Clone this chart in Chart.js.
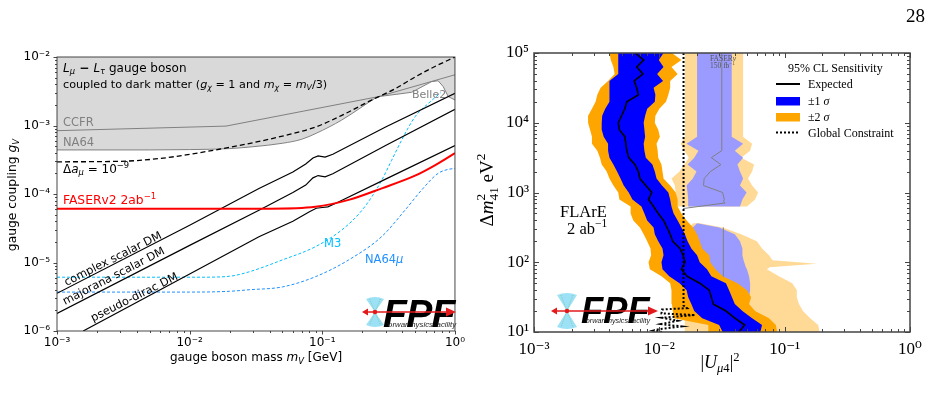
<!DOCTYPE html>
<html><head><meta charset="utf-8">
<script src="https://cdn.jsdelivr.net/npm/chart.js@4/dist/chart.umd.min.js"></script>
<style>
html,body{margin:0;padding:0;background:#fff;width:944px;height:403px;overflow:hidden;position:relative}
#c1{position:absolute;left:0;top:0}
#c2{position:absolute;left:470px;top:0}
#pg{position:absolute;left:906px;top:6px;font:19px "Liberation Serif","DejaVu Serif",serif;line-height:19px;color:#000}
</style></head><body>
<canvas id="c1" width="470" height="403"></canvas>
<canvas id="c2" width="474" height="403"></canvas>
<div id="pg">28</div>
<script>
// ================= LEFT PANEL DATA =================
const massTicks = [0.001, 0.01, 0.1, 1];
const couplingTicks = [1e-6, 1e-5, 1e-4, 1e-3, 1e-2];
const ccfrBound = [[1e-3,8.4e-4],[0.0188,9.8e-4],[0.265,2.64e-3],[1,5.5e-3]];
const na64Bound = [[1e-3,4.4e-4],[0.005,4.4e-4],[0.01,4.45e-4],[0.02,4.6e-4],[0.03,4.9e-4],[0.05,5.5e-4],[0.07,6.3e-4],[0.09,7.7e-4],[0.14,1.2e-3],[0.2,1.88e-3],[0.25,2.5e-3],[0.265,2.64e-3]];
const belle2Bound = [[0.265,2.64e-3],[0.471,3.05e-3],[0.665,4.36e-3],[0.746,4.5e-3],[0.815,3.7e-3],[0.89,2.64e-3],[1,2.36e-3]];
const deltaAmu = [[1e-3,2.95e-4],[0.003,3.0e-4],[0.006,3.3e-4],[0.01,3.8e-4],[0.0167,4.5e-4],[0.03,5.6e-4],[0.05,7.0e-4],[0.089,9.5e-4],[0.15,1.5e-3],[0.235,2.35e-3],[0.35,3.4e-3],[0.5,5.1e-3],[0.7,7.2e-3],[1,1.0e-2]];
const faserV2Reach = [[1e-3,6.1e-5],[0.01,6.1e-5],[0.04,6.1e-5],[0.0887,6.5e-5],[0.158,8.2e-5],[0.281,1.21e-4],[0.5,1.85e-4],[0.7,2.6e-4],[1,3.95e-4]];
const m3Reach = [[1e-3,6.1e-6],[0.012,6.1e-6],[0.02,6.3e-6],[0.028,7.3e-6],[0.05,1.09e-5],[0.0887,1.7e-5],[0.14,2.98e-5],[0.19,5.2e-5],[0.236,9.1e-5],[0.281,1.6e-4],[0.333,3.1e-4],[0.396,6.1e-4],[0.5,1.34e-3],[0.63,2.1e-3],[0.78,3.0e-3]];
const na64muReach = [[1e-3,3.7e-6],[0.01,3.7e-6],[0.02,3.8e-6],[0.028,4.0e-6],[0.05,4.4e-6],[0.0887,6.2e-6],[0.158,1.09e-5],[0.281,2.4e-5],[0.42,5.8e-5],[0.56,1.14e-4],[0.746,2.0e-4],[0.9,2.3e-4],[1,2.35e-4]];
const complexScalarDM = [[1e-3,3.55e-6],[0.01,3.5e-5],[0.0333,1.2e-4],[0.06,2.1e-4],[0.075,2.75e-4],[0.085,3.35e-4],[0.093,3.6e-4],[0.105,3.45e-4],[0.12,3.8e-4],[0.3,9.5e-4],[1,2.95e-3]];
const majoranaScalarDM = [[1e-3,1.8e-6],[0.01,1.78e-5],[0.0333,5.8e-5],[0.06,1.05e-4],[0.075,1.35e-4],[0.085,1.72e-4],[0.093,1.86e-4],[0.105,1.78e-4],[0.12,1.97e-4],[0.3,5.1e-4],[1,1.72e-3]];
const pseudoDiracDM = [[1.575e-3,1e-6],[0.01,6.8e-6],[0.0333,2.38e-5],[0.06,4.0e-5],[0.08,5.5e-5],[0.09,6.2e-5],[0.1,6.35e-5],[0.11,6.5e-5],[0.13,7.5e-5],[0.3,1.65e-4],[1,5.1e-4]];

// ================= RIGHT PANEL DATA =================
const mixingTicks = [0.001, 0.01, 0.1, 1];
const dm2Ticks = [10, 100, 1000, 10000, 100000];
const dm2Grid = [10,12.6,15.8,20,25.1,31.6,39.8,50.1,63.1,79.4,100,126,158,200,251,316,398,501,631,794,1000,1259,1585,1995,2512,3162,3981,5012,6310,7943,10000,12589,15849,19953,25119,31623,39811,50119,63096,79433,100000];
const flare2sLow = [0.0246,0.0246,0.0130,0.0128,0.0126,0.0126,0.0124,0.0122,0.0104,0.0084,0.0082,0.0086,0.0085,0.0080,0.0075,0.0070,0.0062,0.0059,0.0059,0.0048,0.0047,0.0043,0.0040,0.0038,0.00347,0.00336,0.0032,0.0029,0.0029,0.0028,0.0027,0.0027,0.0029,0.0031,0.0032,0.0034,0.0039,0.0044,0.0043,0.0041,0.0040];
const flare1sLow = [0.032,0.030,0.022,0.019,0.018,0.017,0.0165,0.0145,0.0120,0.0106,0.0104,0.0108,0.0106,0.0098,0.0092,0.0090,0.0080,0.0076,0.0072,0.0061,0.0057,0.0052,0.0049,0.0046,0.0043,0.0040,0.0039,0.0039,0.0036,0.00347,0.00347,0.0035,0.0037,0.0040,0.0040,0.0040,0.0040,0.0047,0.0047,0.0047,0.0047];
const flareExpected = [0.043,0.048,0.040,0.034,0.027,0.026,0.025,0.021,0.0166,0.0150,0.0160,0.0155,0.0146,0.0128,0.0122,0.0115,0.0108,0.0098,0.0090,0.0082,0.0087,0.0078,0.0070,0.0068,0.0064,0.0057,0.0055,0.0054,0.0053,0.0048,0.0047,0.0050,0.0053,0.0055,0.0068,0.0066,0.0063,0.0074,0.0066,0.0075,0.0064];
const flare1sHigh = [0.064,0.066,0.055,0.046,0.040,0.038,0.036,0.034,0.026,0.024,0.021,0.020,0.018,0.0168,0.0160,0.0150,0.0140,0.0130,0.0125,0.0122,0.0118,0.0105,0.0095,0.0092,0.0088,0.0078,0.0076,0.0075,0.0077,0.0076,0.0075,0.0077,0.0080,0.0092,0.0093,0.0090,0.0107,0.0096,0.0108,0.0099,0.0108];
const flare2sHigh = [0.087,0.085,0.075,0.058,0.052,0.054,0.050,0.042,0.032,0.028,0.0255,0.025,0.022,0.021,0.020,0.0186,0.0165,0.0150,0.0140,0.0140,0.0135,0.0122,0.0108,0.0106,0.0104,0.0098,0.0097,0.0095,0.0101,0.0098,0.0092,0.0093,0.0100,0.0113,0.0118,0.0122,0.0122,0.0140,0.0125,0.0150,0.0126];

const faserUpperDm2 = [631,794,1000,1259,1585,1995,2512,3162,3981,5012,6310,7943,10000,12589,15849,19953,25119,31623,39811,50119,63096,79433,100000];
const faserUpper2sLow = [0.0137,0.0137,0.0135,0.0133,0.0125,0.0145,0.0158,0.0172,0.0158,0.0148,0.016,0.016,0.016,0.016,0.016,0.016,0.016,0.016,0.016,0.016,0.016,0.016,0.016];
const faserUpper1sLow = [0.017,0.017,0.0168,0.0165,0.0185,0.0198,0.0168,0.019,0.0205,0.0165,0.020,0.020,0.020,0.020,0.020,0.020,0.020,0.020,0.020,0.020,0.020,0.020,0.020];
const faserUpper1sHigh = [0.044,0.046,0.0497,0.044,0.0466,0.044,0.042,0.0466,0.040,0.0466,0.0378,0.0378,0.0378,0.0378,0.0378,0.0378,0.0378,0.0378,0.0378,0.0378,0.0378,0.0378,0.0378];
const faserUpper2sHigh = [0.050,0.058,0.0614,0.055,0.051,0.055,0.057,0.045,0.053,0.055,0.0466,0.0466,0.0466,0.0466,0.0466,0.0466,0.0466,0.0466,0.0466,0.0466,0.0466,0.0466,0.0466];

const faserLowerDm2 = [10,12.6,15.8,20,25.1,31.6,39.8,50.1,63.1,79.4,85.1,95.5,107,126,158,200,251,316,363];
const faserLower2sLow = [0.0158,0.0158,0.0158,0.016,0.016,0.016,0.016,0.016,0.016,0.0162,0.0162,0.0162,0.0163,0.0163,0.0165,0.0165,0.0170,0.0175,0.0185];
const faserLower1sLow = [0.026,0.026,0.018,0.018,0.018,0.018,0.018,0.0185,0.0185,0.019,0.019,0.019,0.019,0.019,0.019,0.019,0.019,0.0185,0.020];
const faserLower1sHigh = [0.060,0.058,0.055,0.052,0.050,0.052,0.053,0.053,0.052,0.050,0.049,0.048,0.047,0.046,0.046,0.044,0.040,0.030,0.020];
const faserLower2sHigh = [0.19,0.185,0.16,0.14,0.13,0.125,0.125,0.115,0.09,0.072,0.076,0.18,0.08,0.075,0.066,0.060,0.045,0.032,0.021];

const faserExpectedUpper = [[0.0155,589],[0.0335,708],[0.0325,741],[0.033,794],[0.032,1000],[0.0225,1259],[0.0228,1585],[0.0255,1995],[0.031,2512],[0.026,3162],[0.0315,3981],[0.0315,100000]];
const faserExpectedLower = [[0.0324,20],[0.0324,316]];
const globalConstraint = [[0.0156,100000],[0.0156,24],[0.0166,22],[0.0105,21],[0.0104,18.5],[0.0193,17.5],[0.0105,16],[0.0140,14.5],[0.0104,13],[0.0150,12],[0.0100,11],[0.0090,10.5],[0.0105,10]];

// ================= helpers =================
const FL = '"DejaVu Sans", sans-serif';
const FR = '"Liberation Serif", "DejaVu Serif", serif';
const SUP = {'-':'⁻','0':'⁰','1':'¹','2':'²','3':'³','4':'⁴','5':'⁵','6':'⁶','7':'⁷','8':'⁸','9':'⁹'};
const pow10Label = v => '10' + String(Math.round(Math.log10(v))).split('').map(c => SUP[c]).join('');
const pts = arr => arr.map(p => ({x: p[0], y: p[1]}));
const band = (ys, lo, hi) => lo.map((x, i) => [x, ys[i]]).concat(hi.map((x, i) => [x, ys[i]]).reverse());
const col = (xs, ys) => xs.map((x, i) => [x, ys[i]]);
function ds(arr, o) {
  return Object.assign({data: pts(arr), showLine: true, pointRadius: 0, pointHoverRadius: 0,
    borderWidth: 1, borderColor: '#000', fill: false, tension: 0}, o);
}
function logTicks(min, max) {
  const major = [], minor = [];
  for (let e = Math.floor(Math.log10(min)); e <= Math.ceil(Math.log10(max)); e++) {
    for (let k = 1; k <= 9; k++) {
      const v = k * Math.pow(10, e);
      if (v < min * 0.9999 || v > max * 1.0001) continue;
      (k === 1 ? major : minor).push(v);
    }
  }
  return {major, minor};
}
function frameTicks(chart, o) {
  const ctx = chart.ctx, a = chart.chartArea, x = chart.scales.x, y = chart.scales.y;
  ctx.save();
  ctx.strokeStyle = o.color; ctx.lineWidth = o.lw;
  ctx.strokeRect(a.left, a.top, a.right - a.left, a.bottom - a.top);
  ctx.lineWidth = o.tlw;
  const d = o.inward ? -1 : 1;
  const xt = logTicks(x.min, x.max), yt = logTicks(y.min, y.max);
  ctx.beginPath();
  const addX = (vals, len) => vals.forEach(v => {
    const p = Math.round(x.getPixelForValue(v)) + 0.5;
    if (o.bottom) { ctx.moveTo(p, a.bottom); ctx.lineTo(p, a.bottom + d * len); }
    if (o.top) { ctx.moveTo(p, a.top); ctx.lineTo(p, a.top - d * len); }
  });
  const addY = (vals, len) => vals.forEach(v => {
    const p = Math.round(y.getPixelForValue(v)) + 0.5;
    if (o.left) { ctx.moveTo(a.left, p); ctx.lineTo(a.left - d * len, p); }
    if (o.right) { ctx.moveTo(a.right, p); ctx.lineTo(a.right + d * len, p); }
  });
  addX(xt.major, o.maj); addX(xt.minor, o.min);
  addY(yt.major, o.maj); addY(yt.minor, o.min);
  ctx.stroke();
  ctx.restore();
}
function drawRich(ctx, x, y, parts, o) {
  o = o || {};
  const fontOf = p => [p.style || 'normal', p.weight || 'normal', (p.size || o.size) + 'px', p.family || o.family].join(' ');
  ctx.save();
  ctx.translate(x, y);
  if (o.rot) ctx.rotate(o.rot);
  ctx.textBaseline = 'alphabetic'; ctx.textAlign = 'left';
  const ws = parts.map(p => { ctx.font = fontOf(p); return ctx.measureText(p.t).width; });
  let total = 0; parts.forEach((p, i) => { if (!p.keep) total += ws[i] + (p.dx || 0); });
  let cx = o.align === 'center' ? -total / 2 : (o.align === 'right' ? -total : 0);
  parts.forEach((p, i) => {
    ctx.font = fontOf(p);
    ctx.fillStyle = p.color || o.color || '#000';
    ctx.fillText(p.t, cx + (p.dx || 0), p.dy || 0);
    if (!p.keep) cx += ws[i] + (p.dx || 0);
  });
  ctx.restore();
}
const T = (t, o) => Object.assign({t}, o || {});
const I = (t, o) => Object.assign({t, style: 'italic'}, o || {});
const SB = (t, s, o) => Object.assign({t, size: s * 0.7, dy: s * 0.22}, o || {});
const SP = (t, s, o) => Object.assign({t, size: s * 0.7, dy: -s * 0.4}, o || {});

function drawLogo(ctx, L) {
  ctx.save();
  ctx.fillStyle = 'rgba(140,220,245,0.85)';
  ctx.beginPath();
  ctx.moveTo(L.cx, L.cy); ctx.lineTo(L.cx - L.fw, L.cy - L.fh);
  ctx.quadraticCurveTo(L.cx, L.cy - L.fh - 4, L.cx + L.fw, L.cy - L.fh); ctx.closePath();
  ctx.moveTo(L.cx, L.cy); ctx.lineTo(L.cx - L.fw, L.cy + L.fh);
  ctx.quadraticCurveTo(L.cx, L.cy + L.fh + 4, L.cx + L.fw, L.cy + L.fh); ctx.closePath();
  ctx.fill();
  ctx.strokeStyle = 'rgba(90,170,90,0.7)'; ctx.lineWidth = 0.6; ctx.setLineDash([1, 1]);
  ctx.beginPath();
  ctx.moveTo(L.cx - L.fw * 0.6, L.cy - L.fh); ctx.lineTo(L.cx + L.fw * 0.6, L.cy + L.fh);
  ctx.moveTo(L.cx + L.fw * 0.6, L.cy - L.fh); ctx.lineTo(L.cx - L.fw * 0.6, L.cy + L.fh);
  ctx.stroke(); ctx.setLineDash([]);
  const fs = L.capH / 0.716;
  const small = ['orward', 'hysics', 'acility'];
  let x = L.lx;
  ctx.textBaseline = 'alphabetic';
  ['F', 'P', 'F'].forEach((ch, i) => {
    ctx.font = 'italic bold ' + fs + 'px "Liberation Sans", Arial, sans-serif';
    ctx.fillStyle = '#000';
    ctx.fillText(ch, x, L.base);
    const w = ctx.measureText(ch).width;
    ctx.font = 'italic ' + (fs * 0.2) + 'px "Liberation Sans", sans-serif';
    ctx.fillStyle = '#222';
    ctx.fillText(small[i], x + fs * 0.13, L.base - 0.5);
    x += w * L.sq;
  });
  ctx.strokeStyle = '#e31a1c'; ctx.fillStyle = '#e31a1c'; ctx.lineWidth = 1.6;
  ctx.beginPath(); ctx.moveTo(L.aL + 4, L.cy); ctx.lineTo(L.aR - 8, L.cy); ctx.stroke();
  ctx.beginPath(); ctx.moveTo(L.aR, L.cy); ctx.lineTo(L.aR - 10, L.cy - 4.5); ctx.lineTo(L.aR - 10, L.cy + 4.5); ctx.closePath(); ctx.fill();
  ctx.beginPath(); ctx.moveTo(L.aL, L.cy); ctx.lineTo(L.aL + 6, L.cy - 3.5); ctx.lineTo(L.aL + 6, L.cy + 3.5); ctx.closePath(); ctx.fill();
  ctx.beginPath(); ctx.arc(L.cx, L.cy, 2.3, 0, 2 * Math.PI); ctx.fill();
  ctx.restore();
}

function logScale(min, max, ticksArr, fam, size, pad, fitKey, fitVal) {
  return {
    type: 'logarithmic', min, max,
    grid: {display: false, drawTicks: false}, border: {display: false},
    afterBuildTicks: s => { s.ticks = ticksArr.map(v => ({value: v})); },
    afterFit: s => { s[fitKey] = fitVal; },
    ticks: {autoSkip: false, maxRotation: 0, minRotation: 0, padding: pad, color: '#000',
      font: {family: fam, size}, callback: v => pow10Label(v)}
  };
}

// ================= LEFT CHART =================
const grayRegion = [[1e-3, 1e-2], [1, 1e-2]].concat(belle2Bound.slice().reverse(), na64Bound.slice().reverse());
const leftDecor = {
  id: 'leftDecor',
  afterDatasetsDraw(chart) {
    const ctx = chart.ctx, xs = chart.scales.x, ys = chart.scales.y;
    frameTicks(chart, {color: '#333', lw: 0.9, tlw: 0.9, inward: false, left: true, bottom: true, maj: 3.5, min: 2});
    drawRich(ctx, 63, 71.5, [I('L'), SB('μ', 12, {style: 'italic'}), T(' − ', {weight: 'bold'}), I('L'), SB('τ', 12, {style: 'italic'}), T(' gauge boson')], {size: 12, family: FL});
    const s2 = 11.2;
    drawRich(ctx, 63, 87.7, [T('coupled to dark matter ('), I('g'), SB('χ', s2, {style: 'italic'}), T(' = 1 and '), I('m'), SB('χ', s2, {style: 'italic'}), T(' = '), I('m'), SB('V', s2, {style: 'italic'}), T('/3)')], {size: s2, family: FL});
    drawRich(ctx, 63, 125.7, [T('CCFR')], {size: 11.5, family: FL, color: '#808080'});
    drawRich(ctx, 63, 146, [T('NA64')], {size: 11.5, family: FL, color: '#808080'});
    drawRich(ctx, 63, 172.7, [T('Δ'), I('a'), SB('μ', 12, {style: 'italic'}), T(' = 10'), SP('−9', 12)], {size: 12, family: FL});
    drawRich(ctx, 63, 204.3, [T('FASERv2 2ab'), SP('−1', 12.3)], {size: 12.3, family: FL, color: '#ff0000'});
    drawRich(ctx, 412, 98.3, [T('Belle2')], {size: 11, family: FL, color: '#808080'});
    drawRich(ctx, 324, 246.7, [T('M3')], {size: 11.5, family: FL, color: '#00bfff'});
    drawRich(ctx, 365, 263.3, [T('NA64'), I('μ')], {size: 11.5, family: FL, color: '#1e90ff'});
    const ang = arr => {
      const a = arr[0], b = arr[arr.length - 1];
      return Math.atan2(ys.getPixelForValue(b[1]) - ys.getPixelForValue(a[1]), xs.getPixelForValue(b[0]) - xs.getPixelForValue(a[0]));
    };
    const lab = (txt, m, g, arr) => drawRich(ctx, xs.getPixelForValue(m), ys.getPixelForValue(g), [T(txt)], {size: 11.3, family: FL, rot: ang(arr)});
    lab('complex scalar DM', 1.18e-3, 4.54e-6, complexScalarDM);
    lab('majorana scalar DM', 1.148e-3, 2.4e-6, majoranaScalarDM);
    lab('pseudo-dirac DM', 1.87e-3, 1.37e-6, pseudoDiracDM);
    drawLogo(ctx, {cx: 375, cy: 312, aL: 362, aR: 456, lx: 383, base: 327, capH: 28, fw: 9, fh: 13, sq: 0.97});
    drawRich(ctx, 256, 361, [T('gauge boson mass '), I('m'), SB('V', 12, {style: 'italic'}), T(' [GeV]')], {size: 12, family: FL, align: 'center'});
    drawRich(ctx, 16, 195, [T('gauge coupling '), I('g'), SB('V', 12.3, {style: 'italic'})], {size: 12.3, family: FL, align: 'center', rot: -Math.PI / 2});
  }
};
new Chart(document.getElementById('c1'), {
  type: 'scatter',
  data: {datasets: [
    ds(grayRegion, {fill: 'shape', backgroundColor: '#d9d9d9', borderColor: 'rgba(0,0,0,0)', order: 30}),
    ds(ccfrBound, {borderColor: '#808080', borderWidth: 1, order: 20}),
    ds(na64Bound, {borderColor: '#808080', borderWidth: 1, order: 20, cubicInterpolationMode: 'monotone'}),
    ds(belle2Bound, {borderColor: '#808080', borderWidth: 1, order: 20}),
    ds(m3Reach, {borderColor: '#00bfff', borderWidth: 1, borderDash: [3, 2], order: 12, cubicInterpolationMode: 'monotone'}),
    ds(na64muReach, {borderColor: '#1e90ff', borderWidth: 1, borderDash: [3, 2], order: 12, cubicInterpolationMode: 'monotone'}),
    ds(complexScalarDM, {borderWidth: 1.2, order: 8}),
    ds(majoranaScalarDM, {borderWidth: 1.2, order: 8}),
    ds(pseudoDiracDM, {borderWidth: 1.2, order: 8}),
    ds(deltaAmu, {borderWidth: 1.3, borderDash: [5, 3], order: 6, cubicInterpolationMode: 'monotone'}),
    ds(faserV2Reach, {borderColor: '#ff0000', borderWidth: 2, order: 4, cubicInterpolationMode: 'monotone'})
  ]},
  options: {
    responsive: false, animation: false, events: [],
    layout: {padding: {left: 0, right: 13, top: 57, bottom: 32}},
    plugins: {legend: {display: false}, tooltip: {enabled: false}},
    scales: {
      x: logScale(1e-3, 1, massTicks, FL, 12, 5, 'height', 40),
      y: logScale(1e-6, 1e-2, couplingTicks, FL, 12, 7, 'width', 57)
    }
  },
  plugins: [leftDecor]
});

// ================= RIGHT CHART =================
const rightDecor = {
  id: 'rightDecor',
  afterDatasetsDraw(chart) {
    const ctx = chart.ctx;
    frameTicks(chart, {color: '#444', lw: 1.5, tlw: 1, inward: true, left: true, right: true, top: true, bottom: true, maj: 5, min: 3});
    drawRich(ctx, 90, 217, [T('FLArE')], {size: 16.5, family: FR});
    drawRich(ctx, 97, 234, [T('2 ab'), SP('−1', 16.5)], {size: 16.5, family: FR});
    drawRich(ctx, 240, 61, [T('FASER'), I('ν')], {size: 7.5, family: FR, color: '#555'});
    drawRich(ctx, 240, 68, [T('150 fb'), SP('−1', 7.5)], {size: 7.5, family: FR, color: '#555'});
    // legend
    drawRich(ctx, 318, 71.7, [T('95% CL Sensitivity')], {size: 12, family: FR});
    ctx.save();
    ctx.strokeStyle = '#000'; ctx.lineWidth = 2;
    ctx.beginPath(); ctx.moveTo(306, 84); ctx.lineTo(330, 84); ctx.stroke();
    ctx.fillStyle = '#0000ff'; ctx.fillRect(306, 97, 24, 8.5);
    ctx.fillStyle = '#ffa500'; ctx.fillRect(306, 113, 24, 8.5);
    ctx.setLineDash([2, 2]);
    ctx.beginPath(); ctx.moveTo(306, 132.5); ctx.lineTo(330, 132.5); ctx.stroke();
    ctx.restore();
    drawRich(ctx, 338, 87.5, [T('Expected')], {size: 12, family: FR});
    drawRich(ctx, 338, 104.5, [T('±1 '), I('σ')], {size: 12, family: FR});
    drawRich(ctx, 338, 120.5, [T('±2 '), I('σ')], {size: 12, family: FR});
    drawRich(ctx, 338, 136.5, [T('Global Constraint')], {size: 12, family: FR});
    drawLogo(ctx, {cx: 97, cy: 311, aL: 81, aR: 188, lx: 111, base: 323, capH: 26, fw: 10, fh: 16, sq: 1.0});
    drawRich(ctx, 250, 368, [T('|'), I('U'), SB('μ', 18, {style: 'italic'}), SB('4', 18), T('|'), SP('2', 18)], {size: 18, family: FR, align: 'center'});
    drawRich(ctx, 23, 190, [T('Δ'), I('m'), {t: '2', size: 13.3, dy: -8, keep: true}, {t: '41', size: 13.3, dy: 4.8}, T(' eV'), SP('2', 19)], {size: 19, family: FR, align: 'center', rot: -Math.PI / 2});
  }
};
new Chart(document.getElementById('c2'), {
  type: 'scatter',
  data: {datasets: [
    ds(band(faserLowerDm2, faserLower2sLow, faserLower2sHigh), {fill: 'shape', backgroundColor: '#ffd996', borderColor: 'rgba(0,0,0,0)', order: 40}),
    ds(band(faserUpperDm2, faserUpper2sLow, faserUpper2sHigh), {fill: 'shape', backgroundColor: '#ffd996', borderColor: 'rgba(0,0,0,0)', order: 40}),
    ds(band(faserLowerDm2, faserLower1sLow, faserLower1sHigh), {fill: 'shape', backgroundColor: '#9b9bff', borderColor: 'rgba(0,0,0,0)', order: 38}),
    ds(band(faserUpperDm2, faserUpper1sLow, faserUpper1sHigh), {fill: 'shape', backgroundColor: '#9b9bff', borderColor: 'rgba(0,0,0,0)', order: 38}),
    ds(faserExpectedUpper, {borderColor: '#808080', borderWidth: 1, order: 36}),
    ds(faserExpectedLower, {borderColor: '#808080', borderWidth: 1, order: 36}),
    ds(band(dm2Grid, flare2sLow, flare2sHigh), {fill: 'shape', backgroundColor: '#ffa500', borderColor: 'rgba(0,0,0,0)', order: 30}),
    ds(band(dm2Grid, flare1sLow, flare1sHigh), {fill: 'shape', backgroundColor: '#0000ff', borderColor: 'rgba(0,0,0,0)', order: 28}),
    ds(col(flareExpected, dm2Grid), {borderColor: '#000', borderWidth: 1.6, order: 26}),
    ds(globalConstraint, {borderColor: '#000', borderWidth: 2, borderDash: [2, 2], order: 10})
  ]},
  options: {
    responsive: false, animation: false, events: [],
    layout: {padding: {left: 0, right: 34, top: 53, bottom: 31}},
    plugins: {legend: {display: false}, tooltip: {enabled: false}},
    scales: {
      x: logScale(1e-3, 1, mixingTicks, FR, 17, 7, 'height', 40),
      y: logScale(10, 1e5, dm2Ticks, FR, 17, 5, 'width', 64)
    }
  },
  plugins: [rightDecor]
});
</script>
</body></html>
